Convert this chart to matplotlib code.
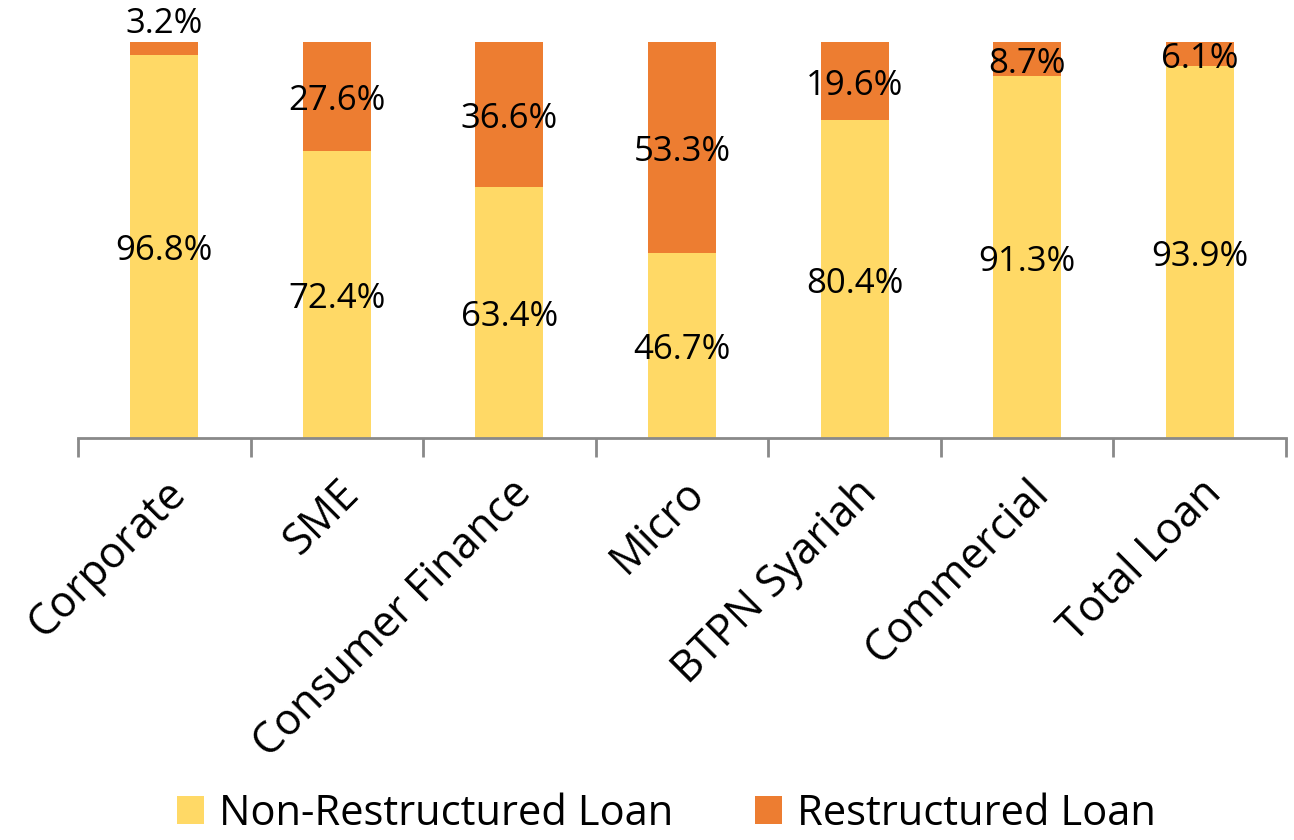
import matplotlib
matplotlib.use("Agg")
import matplotlib.pyplot as plt
from matplotlib import font_manager
import numpy as np

categories = ["Corporate", "SME", "Consumer Finance", "Micro", "BTPN Syariah", "Commercial", "Total Loan"]
non_restructured = [96.8, 72.4, 63.4, 46.7, 80.4, 91.3, 93.9]
restructured = [3.2, 27.6, 36.6, 53.3, 19.6, 8.7, 6.1]
series_names = ["Non-Restructured Loan", "Restructured Loan"]

yellow = "#FFD966"
orange = "#ED7D31"

names = {f.name for f in font_manager.fontManager.ttflist}
base_font = "Open Sans" if "Open Sans" in names else "DejaVu Sans"
plt.rcParams['font.family'] = [base_font, 'DejaVu Sans']

fig = plt.figure(figsize=(12.94, 8.4), dpi=100)
ax = fig.add_axes([78/1294, 1-438/840, (1286-78)/1294, (438-42)/840])

x = np.arange(len(categories))
w = 0.394
b1 = ax.bar(x, non_restructured, w, color=yellow, label=series_names[0])
b2 = ax.bar(x, restructured, w, bottom=non_restructured, color=orange, label=series_names[1])

ax.set_xlim(-0.5, len(categories) - 0.5)
ax.set_ylim(0, 100)

fs = 25
dy = -1.2
for i in range(len(categories)):
    ax.text(x[i], non_restructured[i] / 2 + dy, f"{non_restructured[i]:.1f}%", ha='center', va='center', fontsize=fs)
    if restructured[i] < 5:
        ax.text(x[i], 100 + 4.5, f"{restructured[i]:.1f}%", ha='center', va='center', fontsize=fs, clip_on=False)
    else:
        ax.text(x[i], non_restructured[i] + restructured[i] / 2 + dy, f"{restructured[i]:.1f}%", ha='center', va='center', fontsize=fs)

for s in ['top', 'right', 'left']:
    ax.spines[s].set_visible(False)
ax.spines['bottom'].set_color('#898989')
ax.spines['bottom'].set_linewidth(2)
ax.set_yticks([])

ax.set_xticks(np.arange(len(categories) + 1) - 0.5, minor=False)
ax.set_xticklabels([])
ax.tick_params(axis='x', length=14, width=2, color='#898989')
ax.set_xticks(x, minor=True)
ax.tick_params(axis='x', which='minor', length=0)
ax.set_xticklabels(categories, minor=True)
for lbl in ax.get_xticklabels(minor=True):
    lbl.set_rotation(45)
    lbl.set_rotation_mode('anchor')
    lbl.set_ha('right')
    lbl.set_va('top')
    lbl.set_fontsize(31)
ax.tick_params(axis='x', which='minor', pad=24)

leg = fig.legend(handles=[b1, b2], labels=series_names, loc='lower center', bbox_to_anchor=(0.515, 0.006),
                 ncol=2, frameon=False, prop={'size': 30}, borderaxespad=0, borderpad=0,
                 handlelength=0.65, handleheight=0.65, handletextpad=0.36, columnspacing=1.97)

fig.savefig("out.png", dpi=100)
